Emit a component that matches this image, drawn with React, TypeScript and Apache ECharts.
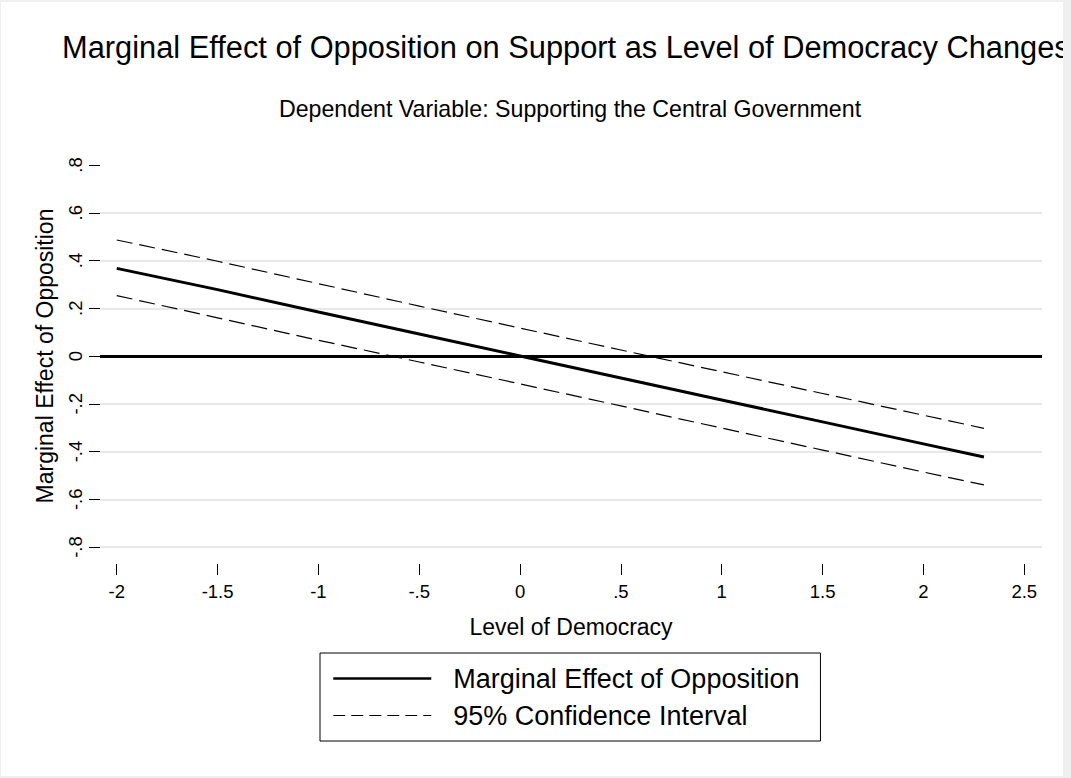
import React, { useEffect, useRef } from "react";
import * as echarts from "echarts";

const TITLE = "Marginal Effect of Opposition on Support as Level of Democracy Changes";
const SUBTITLE = "Dependent Variable: Supporting the Central Government";
const X_NAME = "Level of Democracy";
const Y_NAME = "Marginal Effect of Opposition";
const SERIES_MAIN = "Marginal Effect of Opposition";
const SERIES_CI = "95% Confidence Interval";

const democracyLevels = [-2, -1.5, -1, -0.5, 0, 0.5, 1, 1.5, 2, 2.3];
const marginalEffect = [0.367, 0.278, 0.184, 0.092, 0.0, -0.092, -0.184, -0.276, -0.368, -0.423];
const upperCI = [0.486, 0.397, 0.303, 0.209, 0.117, 0.025, -0.066, -0.157, -0.248, -0.303];
const lowerCI = [0.253, 0.16, 0.066, -0.025, -0.117, -0.209, -0.302, -0.394, -0.486, -0.54];
const xTicks = [-2, -1.5, -1, -0.5, 0, 0.5, 1, 1.5, 2, 2.5];

const FONT = "'Liberation Sans', Arial, Helvetica, sans-serif";

function fmt(v: number): string {
  const r = Math.round(v * 10) / 10;
  if (r === 0) return "0";
  return String(r).replace(/^(-?)0\./, "$1.");
}

export default function App() {
  const ref = useRef<HTMLDivElement>(null);

  useEffect(() => {
    if (!ref.current) return;
    const chart = echarts.init(ref.current, undefined, { renderer: "svg" });
    const pair = (ys: number[]) => democracyLevels.map((x, i) => [x, ys[i]]);
    chart.setOption({
      animation: false,
      backgroundColor: "#ffffff",
      textStyle: { fontFamily: FONT, color: "#000" },
      title: [
        {
          text: TITLE,
          left: 61,
          top: 30,
          padding: 0,
          textStyle: { fontSize: 30.8, fontWeight: "normal", color: "#000", fontFamily: FONT },
        },
        {
          text: SUBTITLE,
          left: 569,
          top: 95,
          textAlign: "center",
          padding: 0,
          textStyle: { fontSize: 23.2, fontWeight: "normal", color: "#000", fontFamily: FONT },
        },
      ],
      grid: { left: 99, right: 21, top: 163, bottom: 229, containLabel: false },
      xAxis: {
        type: "value",
        min: -2.083,
        max: 2.588,
        offset: 17,
        axisLine: { show: false, onZero: false },
        axisTick: { show: true, length: 11, customValues: xTicks, lineStyle: { color: "#000", width: 1 } },
        axisLabel: {
          customValues: xTicks,
          formatter: fmt,
          fontSize: 18.5,
          color: "#000",
          margin: 18,
          fontFamily: FONT,
        },
        splitLine: { show: false },
        name: X_NAME,
        nameLocation: "middle",
        nameGap: 51,
        nameTextStyle: { fontSize: 23, color: "#000", fontFamily: FONT },
      },
      yAxis: {
        type: "value",
        min: -0.8,
        max: 0.8,
        interval: 0.2,
        axisLine: { show: false, onZero: false },
        axisTick: { show: true, length: 11, lineStyle: { color: "#000", width: 1 } },
        axisLabel: {
          rotate: 90,
          formatter: fmt,
          fontSize: 18.5,
          color: "#000",
          margin: 15,
          fontFamily: FONT,
        },
        splitLine: { show: true, showMaxLine: false, lineStyle: { color: "#e8e8e8", width: 2 } },
        name: Y_NAME,
        nameLocation: "middle",
        nameRotate: 90,
        nameGap: 44,
        nameTextStyle: { fontSize: 23, color: "#000", fontFamily: FONT },
      },
      legend: {
        left: 319,
        top: 651,
        orient: "vertical",
        padding: [12, 21, 12, 12],
        borderColor: "#000",
        borderWidth: 1,
        itemWidth: 98,
        itemHeight: 14,
        itemGap: 10,
        selectedMode: false,
        itemStyle: { color: "transparent", borderWidth: 0 },
        textStyle: { fontSize: 27, color: "#000", fontFamily: FONT, padding: [0, 0, 0, 17] },
        data: [
          { name: SERIES_MAIN, lineStyle: { width: 2.5 } },
          { name: SERIES_CI, lineStyle: { type: [12, 6], width: 1 } },
        ],
      },
      series: [
        {
          name: SERIES_MAIN,
          type: "line",
          data: pair(marginalEffect),
          symbol: "none",
          z: 4,
          lineStyle: { color: "#000", width: 3 },
          itemStyle: { color: "#000" },
          markLine: {
            silent: true,
            symbol: "none",
            label: { show: false },
            lineStyle: { color: "#000", width: 3, type: "solid" },
            data: [{ yAxis: 0 }],
          },
        },
        {
          name: SERIES_CI,
          type: "line",
          data: pair(upperCI),
          symbol: "none",
          lineStyle: { color: "#000", width: 1.2, type: [16, 7] },
          itemStyle: { color: "#000" },
        },
        {
          name: SERIES_CI,
          type: "line",
          data: pair(lowerCI),
          symbol: "none",
          lineStyle: { color: "#000", width: 1.2, type: [16, 7] },
          itemStyle: { color: "#000" },
        },
      ],
    });
    return () => chart.dispose();
  }, []);

  return (
    <div
      style={{
        position: "fixed",
        left: 0,
        top: 0,
        width: 1071,
        height: 778,
        background: "#efefef",
      }}
    >
      <div
        ref={ref}
        style={{ position: "absolute", left: 1, top: 2, width: 1062, height: 774, background: "#fff" }}
      />
    </div>
  );
}
